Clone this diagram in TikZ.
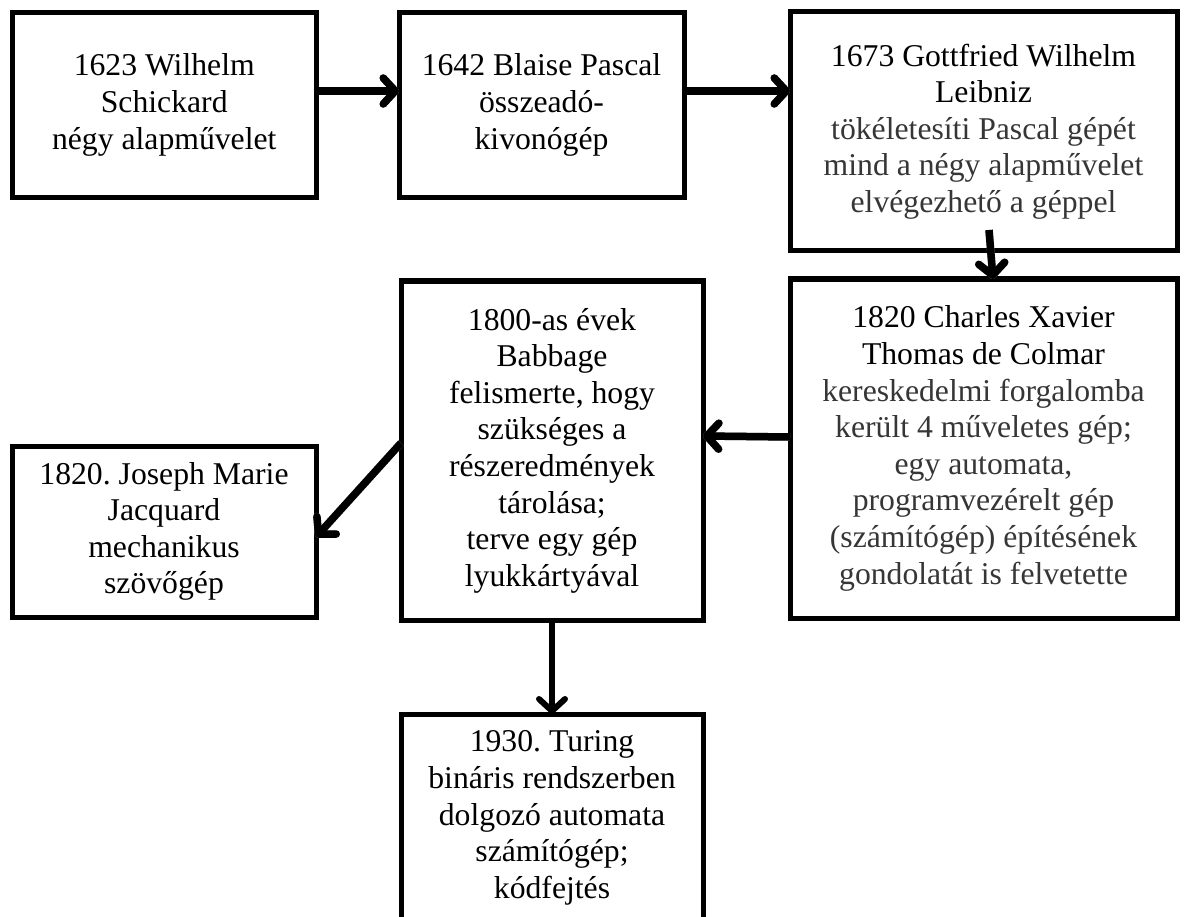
\documentclass[tikz,border=0pt]{standalone}
\usepackage{fontspec}
\setmainfont{Liberation Serif}
\usetikzlibrary{arrows.meta}
\definecolor{dg}{HTML}{363636}
\definecolor{shadowgray}{HTML}{9C9C9C}
\newcommand{\dgl}[1]{\textcolor{dg}{#1}}
\frenchspacing
\tikzset{
  box/.style={draw=black, line width=5pt, rectangle, inner sep=0pt, outer sep=0pt,
    align=center, font=\fontsize{31.7}{36.6}\selectfont, fill=white},
  conn/.style={line width=7.5pt, -{Straight Barb[length=12pt,width=26pt,round]}},
  connshadow/.style={conn, draw=shadowgray, xshift=2.5pt, yshift=-5pt},
}
\begin{document}
\begin{tikzpicture}[x=1pt,y=-1pt]
\useasboundingbox (0,0) rectangle (1188,917);
\clip (0,0) rectangle (1188,917);
\fill[white] (0,0) rectangle (1188,917);

\node[box, minimum width=303.5pt, minimum height=185pt] (b1) at (164.25,105)
  {1623 Wilhelm\\Schickard\\négy alapművelet};
\node[box, minimum width=285pt, minimum height=185pt] (b2) at (541.5,105)
  {1642 Blaise Pascal\\összeadó-\\kivonógép};
\node[box, minimum width=387pt, minimum height=239pt] (b3) at (983.5,131.5)
  {1673 Gottfried Wilhelm\\Leibniz\\\dgl{tökéletesíti Pascal gépét}\\\dgl{mind a négy alapművelet}\\\dgl{elvégezhető a géppel}};
\node[box, minimum width=387pt, minimum height=339pt] (b4) at (983.5,448.5)
  {1820 Charles Xavier\\Thomas de Colmar\\\dgl{kereskedelmi forgalomba}\\\dgl{került 4 műveletes gép;}\\\dgl{egy automata,}\\\dgl{programvezérelt gép}\\\dgl{(számítógép) építésének}\\\dgl{gondolatát is felvetette}};
\node[box, minimum width=302pt, minimum height=339pt] (b5) at (552,450.5)
  {1800-as évek\\Babbage\\felismerte, hogy\\szükséges a\\részeredmények\\tárolása;\\terve egy gép\\lyukkártyával};
\node[box, minimum width=304pt, minimum height=171pt] (b6) at (164,531.5)
  {1820. Joseph Marie\\Jacquard\\mechanikus\\szövőgép};
\node[box, minimum width=302pt, minimum height=208pt] (b7) at (552,818)
  {1930. Turing\\bináris rendszerben\\dolgozó automata\\számítógép;\\kódfejtés};

\coordinate (c3) at ([xshift=5.5pt,yshift=21pt]b3.south);

% shadows
\draw[connshadow] ([yshift=14pt]b1.east) -- ([yshift=14pt]b2.west);
\draw[connshadow] ([yshift=14pt]b2.east) -- ([yshift=40.5pt]b3.west);
\draw[connshadow] (c3) -- ([xshift=9.5pt]b4.north);
\draw[connshadow] ([yshift=11.5pt]b4.west) -- ([yshift=14.5pt]b5.east);
\draw[connshadow] ([yshift=7.5pt]b5.west) -- ([yshift=-5.5pt]b6.east);

% connectors
\draw[conn] ([yshift=14pt]b1.east) -- ([yshift=14pt]b2.west);
\draw[conn] ([yshift=14pt]b2.east) -- ([yshift=40.5pt]b3.west);
\draw[conn] (c3) -- ([xshift=9.5pt]b4.north);
\draw[conn] ([yshift=11.5pt]b4.west) -- ([yshift=14.5pt]b5.east);
\draw[conn] ([yshift=7.5pt]b5.west) -- ([yshift=-5.5pt]b6.east);
\draw[conn, line width=6pt] (b5.south) -- (b7.north);
\end{tikzpicture}
\end{document}
